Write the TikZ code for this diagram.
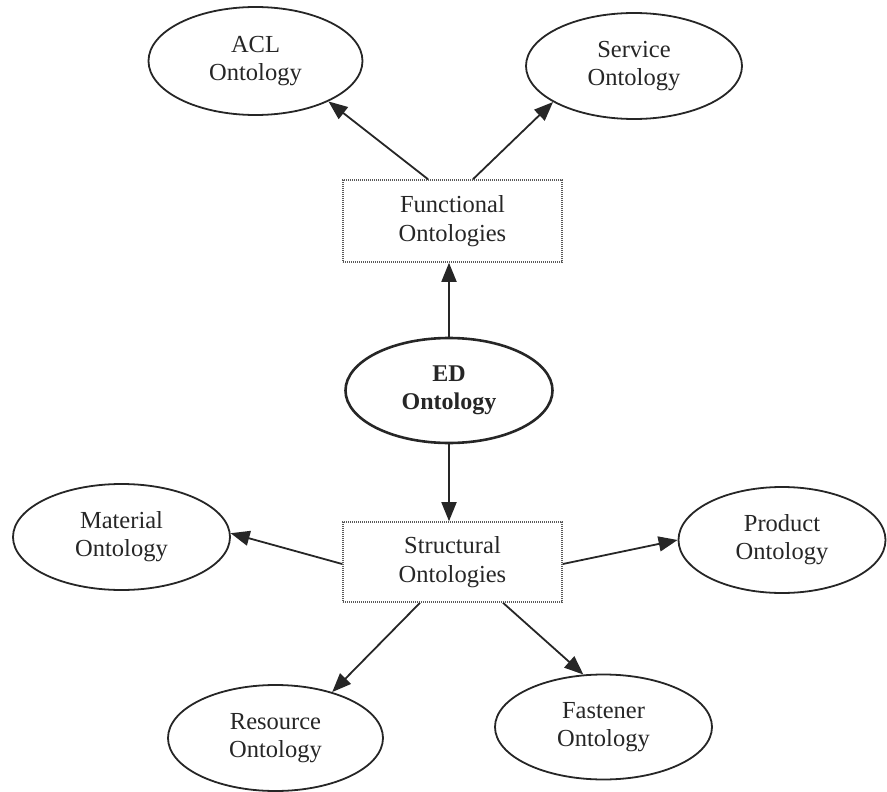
\documentclass[tikz,border=0pt]{standalone}
\usepackage{fontspec}
\setmainfont{Liberation Serif}
\usetikzlibrary{arrows.meta,shapes.geometric}

\definecolor{ink}{HTML}{262626}
\definecolor{boxline}{HTML}{5A5A5A}

\tikzset{
  onto/.style={ellipse, draw=ink, line width=1.8pt, inner sep=0pt,
    align=center, text=ink, font=\fontsize{24.5}{28}\selectfont},
  mainonto/.style={onto, line width=2.6pt, font=\fontsize{24}{28}\selectfont\bfseries},
  group/.style={rectangle, draw=boxline, line width=1.6pt,
    dash pattern=on 1.2pt off 0.8pt, inner sep=0pt, align=center,
    text=ink, font=\fontsize{24.5}{29}\selectfont},
  link/.style={draw=ink, line width=1.8pt,
    -{Triangle[length=19pt,width=15pt]}}
}

\begin{document}
\begin{tikzpicture}[x=1pt,y=-1pt]
  \useasboundingbox (0,0) rectangle (887,792);

  % upper group
  \node[onto, minimum width=214pt, minimum height=108pt] (acl) at (255.5,61) {ACL\\Ontology};
  \node[onto, minimum width=216pt, minimum height=106pt] (service) at (634,66) {Service\\Ontology};
  \node[group, minimum width=219pt, minimum height=82pt] (func) at (452.5,221) {Functional\\Ontologies};

  % core
  \node[mainonto, minimum width=207pt, minimum height=105pt] (ed) at (449,390.5) {ED\\Ontology};

  % lower group
  \node[group, minimum width=219pt, minimum height=80pt] (struct) at (452.5,562) {Structural\\Ontologies};
  \node[onto, minimum width=217pt, minimum height=106pt] (material) at (121.5,537) {Material\\Ontology};
  \node[onto, minimum width=207pt, minimum height=106pt] (product) at (782,540) {Product\\Ontology};
  \node[onto, minimum width=215pt, minimum height=106pt] (resource) at (275.5,738) {Resource\\Ontology};
  \node[onto, minimum width=217pt, minimum height=105pt] (fastener) at (603.5,727) {Fastener\\Ontology};

  % connectors
  \draw[link] ([xshift=-24.5pt]func.north) -- (acl.-29);
  \draw[link] ([xshift=20.5pt]func.north) -- (service.204);
  \draw[link] (ed.north) -- (ed.north |- func.south);
  \draw[link] (ed.south) -- (ed.south |- struct.north);
  \draw[link] ([yshift=-2pt]struct.west) -- (material.2);
  \draw[link] ([yshift=-2pt]struct.east) -- (product.west);
  \draw[link] ([xshift=-32.5pt]struct.south) -- (resource.39);
  \draw[link] ([xshift=50.5pt]struct.south) -- (fastener.111);
\end{tikzpicture}
\end{document}
